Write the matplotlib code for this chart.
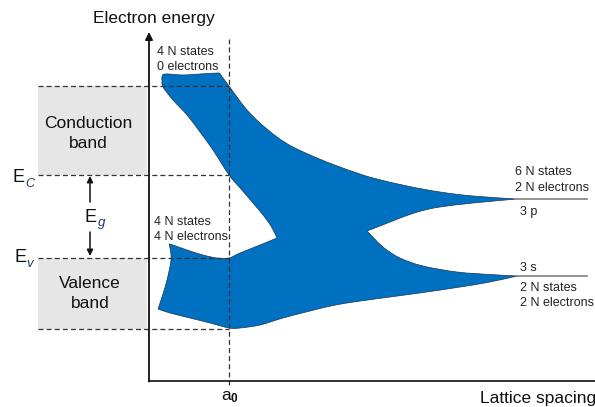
import matplotlib
matplotlib.use("Agg")
import matplotlib.pyplot as plt
from matplotlib.patches import PathPatch, Rectangle
from matplotlib.path import Path
import numpy as np

plt.rcParams['font.family'] = ['Liberation Sans', 'DejaVu Sans']

# Reference levels (lattice spacing on x, electron energy on y)
a0 = 80
E_top, E_c, E_v, E_bottom = 295, 206, 123, 52
level_3p, level_3s = 182, 105
atom_x, level_end = 368, 438

# Outline of the allowed-energy region, walked clockwise, one list per edge
conduction_top_x = [13, 13, 16, 34, 51, 69, 71]
conduction_top_y = [301, 304, 307, 306, 307, 308, 307]
upper_outer_x = [80, 88, 98, 111, 128, 144, 168, 191, 208, 224, 258, 291, 324, 368]
upper_outer_y = [295, 284, 271, 258, 244, 234, 223, 214, 208, 203, 195, 189, 185, 182]
upper_inner_x = [324, 291, 274, 258, 241, 231, 218]
upper_inner_y = [178, 174, 170.5, 165.5, 159, 155, 150]
lower_inner_x = [234, 251, 274, 308, 341, 368]
lower_inner_y = [134, 123, 115, 109, 106.5, 105]
lower_outer_x = [341, 308, 274, 241, 208, 184, 161, 134, 111, 91, 80, 61, 41, 21, 9]
lower_outer_y = [99, 93.5, 88.5, 84, 79.5, 75.5, 70, 63, 56, 53, 53, 58, 63, 68, 72]
valence_left_x = [13, 18, 22, 21, 20]
valence_left_y = [84, 101, 121, 133, 137]
valence_top_x = [24, 38, 54, 68, 80, 91, 111, 128]
valence_top_y = [136, 131, 126, 123, 123, 128, 136, 143]
conduction_left_x = [122, 114, 104, 92, 80, 64, 51, 38, 24, 14]
conduction_left_y = [155, 166, 178, 192, 206, 231, 249, 266, 281, 294]

edges = [
    (conduction_top_x, conduction_top_y),
    (upper_outer_x, upper_outer_y),
    (upper_inner_x, upper_inner_y),
    (lower_inner_x, lower_inner_y),
    (lower_outer_x, lower_outer_y),
    (valence_left_x, valence_left_y),
    (valence_top_x, valence_top_y),
    (conduction_left_x, conduction_left_y),
]


def outline_path(edge_list):
    """Closed path: each edge drawn as a smooth curve, corners kept sharp."""
    verts, codes = [], []
    start = np.array([edge_list[0][0][0], edge_list[0][1][0]], float)
    verts.append(start)
    codes.append(Path.MOVETO)
    prev_end = start
    for k, (ex, ey) in enumerate(edge_list):
        pts = np.column_stack([ex, ey]).astype(float)
        if k > 0:
            pts = np.vstack([prev_end, pts])
        if k == len(edge_list) - 1:
            pts = np.vstack([pts, start])
        n = len(pts)
        for i in range(n - 1):
            p0 = pts[i - 1] if i > 0 else pts[i]
            p1, p2 = pts[i], pts[i + 1]
            p3 = pts[i + 2] if i + 2 < n else pts[i + 1]
            verts += [p1 + (p2 - p0) / 6.0, p2 - (p3 - p1) / 6.0, p2]
            codes += [Path.CURVE4] * 3
        prev_end = pts[-1]
    verts.append(start)
    codes.append(Path.CLOSEPOLY)
    return Path(np.array(verts), codes)


fig = plt.figure(figsize=(5.95, 4.07), dpi=100)
ax = fig.add_axes([0, 0, 1, 1])
ax.set_xlim(-149, 446)
ax.set_ylim(-26, 381)
ax.axis('off')

ax.add_patch(PathPatch(outline_path(edges), facecolor='#0070C0',
                       edgecolor='#1b3550', linewidth=0.5, zorder=2))

# Grey boxes for the bands
box_left, box_right = -111, -2
ax.add_patch(Rectangle((box_left, E_c), box_right - box_left, E_top - E_c,
                       facecolor='#E6E6E6', edgecolor='none', zorder=0))
ax.add_patch(Rectangle((box_left, E_bottom), box_right - box_left, E_v - E_bottom,
                       facecolor='#E6E6E6', edgecolor='none', zorder=0))

# Dashed guides
dash = dict(color='#333333', linewidth=0.9, dashes=(4, 2.5), zorder=3)
for lvl in (E_top, E_c, E_v, E_bottom):
    ax.plot([box_left, a0], [lvl, lvl], **dash)
ax.plot([a0, a0], [-4, 342], **dash)

# Axes
ax.plot([0, 446], [0, 0], color='#222222', linewidth=1.3, zorder=4)
ax.annotate('', xy=(0, 349), xytext=(0, -0.6),
            arrowprops=dict(arrowstyle='-|>', color='#111111', lw=1.3,
                            mutation_scale=11, shrinkA=0, shrinkB=0), zorder=4)

# Atomic levels
ax.plot([atom_x, level_end], [level_3p, level_3p], color='#808080', linewidth=1.2, zorder=3)
ax.plot([atom_x, level_end], [level_3s, level_3s], color='#808080', linewidth=1.2, zorder=3)

# Band-gap arrows
arr = dict(arrowstyle='-|>', color='#111111', lw=1.1, mutation_scale=9, shrinkA=0, shrinkB=0)
ax.annotate('', xy=(-59, E_c - 1), xytext=(-59, 179), arrowprops=arr)
ax.annotate('', xy=(-59, E_v + 2), xytext=(-59, 149), arrowprops=arr)

txt = '#222222'
sub = '#1F3864'
big = 12.5
small = 9
ax.text(5, 363, 'Electron energy', fontsize=big, ha='center', va='center', color='#111111')
ax.text(331, -18, 'Lattice spacing', fontsize=big, ha='left', va='center', color='#111111')
ax.text(77, -15, 'a', fontsize=big, ha='center', va='center', color='#111111')
ax.text(85, -18, '0', fontsize=8.5, ha='center', va='center', color='#111111', fontweight='bold')

ax.text(-130, 203, 'E', fontsize=13, ha='center', va='center', color='#111111')
ax.text(-119, 197, 'C', fontsize=9, ha='center', va='center', color=sub, style='italic')
ax.text(-58, 164, 'E', fontsize=13, ha='center', va='center', color='#111111')
ax.text(-47, 158, 'g', fontsize=9.5, ha='center', va='center', color=sub, style='italic')
ax.text(-129, 123, 'E', fontsize=13, ha='center', va='center', color='#111111')
ax.text(-119, 117, 'v', fontsize=9.5, ha='center', va='center', color=sub, style='italic')

ax.text(-61, 258, 'Conduction', fontsize=big, ha='center', va='center', color='#111111')
ax.text(-61, 238, 'band', fontsize=big, ha='center', va='center', color='#111111')
ax.text(-59, 97, 'Valence', fontsize=big, ha='center', va='center', color='#111111')
ax.text(-59, 77, 'band', fontsize=big, ha='center', va='center', color='#111111')

notes = [
    (8, 329, '4 N states'), (8, 314, '0 electrons'),
    (5, 159, '4 N states'), (5, 144, '4 N electrons'),
    (366, 209, '6 N states'), (366, 193, '2 N electrons'),
    (371, 169, '3 p'), (371, 113, '3 s'),
    (371, 93, '2 N states'), (371, 78, '2 N electrons'),
]
for x, y, s in notes:
    ax.text(x, y, s, fontsize=small, ha='left', va='center', color=txt)

fig.savefig('out.png', dpi=100)
